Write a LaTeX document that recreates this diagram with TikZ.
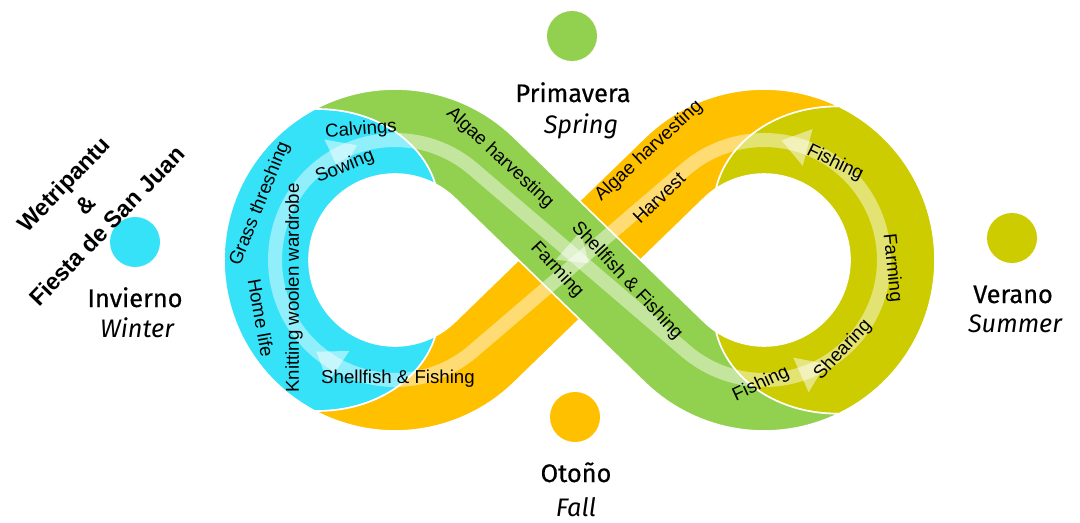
\documentclass[tikz,border=0pt]{standalone}
\usepackage{fontspec}
\setmainfont{Liberation Sans}
\newfontfamily\seasonfont{Fira Sans}
\newfontfamily\seasonboldfont[FakeBold=0.5]{Fira Sans}
\usepackage{tikz}
\definecolor{wintercyan}{RGB}{54,226,248}
\definecolor{springgreen}{RGB}{146,208,80}
\definecolor{summerolive}{RGB}{204,204,0}
\definecolor{fallorange}{RGB}{255,192,0}
\def\Lcx{395}
\def\Rcx{764}
\def\Cy{262}
\def\Rin{86}
\def\Rout{171}
\tikzset{
  band/.style={draw=white, line width=1.2pt, line join=round},
  stripe/.style={draw=white, draw opacity=0.45, line width=10.5pt},
  flowtipfill/.style={fill=white, fill opacity=0.5},
  lbl/.style={font=\fontsize{14}{16}\selectfont, inner sep=0pt},
  season/.style={font=\seasonboldfont\fontsize{19}{22}\selectfont, anchor=base, inner sep=0pt},
  seasonen/.style={font=\seasonfont\itshape\fontsize{19}{22}\selectfont, anchor=base, inner sep=0pt},
  seasondot/.style={circle, minimum size=37.5pt, inner sep=0pt}
}
\newcommand{\flowtip}[3]{\fill[flowtipfill, shift={(#1,#2)}, rotate=#3] (14,0) -- (-13,19) -- (-13,-19) -- cycle;}
\begin{document}
\begin{tikzpicture}[x=0.75pt, y=0.75pt]
\fill[white] (0,0) rectangle (1080,522);
\useasboundingbox (0,0) rectangle (1080,522);

\filldraw[band, fill=wintercyan]
  plot[domain=118:242, samples=50] ({\Lcx+\Rout*cos(\x)},{\Cy+\Rout*sin(\x)})
  -- plot[domain=242:298, samples=30] ({\Lcx+(\Rout-85*(\x-242)/56)*cos(\x)},{\Cy+(\Rout-85*(\x-242)/56)*sin(\x)})
  -- plot[domain=0:236, samples=80] ({\Lcx+\Rin*cos(298-\x)},{\Cy+\Rin*sin(298-\x)})
  -- plot[domain=62:118, samples=30] ({\Lcx+(\Rin+85*(\x-62)/56)*cos(\x)},{\Cy+(\Rin+85*(\x-62)/56)*sin(\x)})
  -- cycle;
\filldraw[band, fill=summerolive]
  plot[domain=0:128, samples=50] ({\Rcx+\Rout*cos(64-\x)},{\Cy+\Rout*sin(64-\x)})
  -- plot[domain=0:60, samples=30] ({\Rcx+(\Rout-85*\x/60)*cos(296-\x)},{\Cy+(\Rout-85*\x/60)*sin(296-\x)})
  -- plot[domain=236:484, samples=80] ({\Rcx+\Rin*cos(\x)},{\Cy+\Rin*sin(\x)})
  -- plot[domain=0:60, samples=30] ({\Rcx+(\Rin+85*\x/60)*cos(124-\x)},{\Cy+(\Rin+85*\x/60)*sin(124-\x)})
  -- cycle;
\filldraw[band, fill=fallorange]
  plot[domain=0:72.14, samples=30] ({\Lcx+\Rout*cos(-118+\x)},{\Cy+\Rout*sin(-118+\x)})
  -- ({\Rcx+\Rin*cos(134.14)},{\Cy+\Rin*sin(134.14)})
  -- plot[domain=0:10.14, samples=5] ({\Rcx+\Rin*cos(134.14-\x)},{\Cy+\Rin*sin(134.14-\x)})
  -- plot[domain=0:60, samples=30] ({\Rcx+(\Rin+85*\x/60)*cos(124-\x)},{\Cy+(\Rin+85*\x/60)*sin(124-\x)})
  -- plot[domain=64:134.14, samples=30] ({\Rcx+\Rout*cos(\x)},{\Cy+\Rout*sin(\x)})
  -- ({\Lcx+\Rin*cos(-45.86)},{\Cy+\Rin*sin(-45.86)})
  -- plot[domain=0:16.14, samples=5] ({\Lcx+\Rin*cos(-45.86-\x)},{\Cy+\Rin*sin(-45.86-\x)})
  -- plot[domain=0:56, samples=30] ({\Lcx+(\Rin+85*\x/56)*cos(-62-\x)},{\Cy+(\Rin+85*\x/56)*sin(-62-\x)})
  -- cycle;
\filldraw[band, fill=springgreen]
  plot[domain=0:72.14, samples=30] ({\Lcx+\Rout*cos(118-\x)},{\Cy+\Rout*sin(118-\x)})
  -- ({\Rcx+\Rin*cos(225.86)},{\Cy+\Rin*sin(225.86)})
  -- plot[domain=225.86:236, samples=5] ({\Rcx+\Rin*cos(\x)},{\Cy+\Rin*sin(\x)})
  -- plot[domain=236:296, samples=30] ({\Rcx+(\Rin+85*(\x-236)/60)*cos(\x)},{\Cy+(\Rin+85*(\x-236)/60)*sin(\x)})
  -- plot[domain=0:70.14, samples=30] ({\Rcx+\Rout*cos(296-\x)},{\Cy+\Rout*sin(296-\x)})
  -- ({\Lcx+\Rin*cos(45.86)},{\Cy+\Rin*sin(45.86)})
  -- plot[domain=45.86:62, samples=5] ({\Lcx+\Rin*cos(\x)},{\Cy+\Rin*sin(\x)})
  -- plot[domain=62:118, samples=30] ({\Lcx+(\Rin+85*(\x-62)/56)*cos(\x)},{\Cy+(\Rin+85*(\x-62)/56)*sin(\x)})
  -- cycle;

\draw[stripe] plot[domain=75:130.57, samples=20] ({\Rcx+120*cos(\x)},{\Cy+120*sin(\x)})
  -- plot[domain=0:74.57, samples=25] ({\Lcx+120*cos(-49.43-\x)},{\Cy+120*sin(-49.43-\x)});
\draw[stripe] plot[domain=0:121, samples=40] ({\Lcx+120*cos(236-\x)},{\Cy+120*sin(236-\x)});
\draw[stripe] plot[domain=0:65.57, samples=25] ({\Lcx+120*cos(115-\x)},{\Cy+120*sin(115-\x)})
  -- plot[domain=229.43:294, samples=25] ({\Rcx+120*cos(\x)},{\Cy+120*sin(\x)});
\draw[stripe] plot[domain=294:435, samples=50] ({\Rcx+120*cos(\x)},{\Cy+120*sin(\x)});
\flowtip{{\Lcx+120*cos(236)}}{{\Cy+120*sin(236)}}{146}
\flowtip{{\Lcx+120*cos(115)}}{{\Cy+120*sin(115)}}{25}
\flowtip{{\Rcx+120*cos(294)}}{{\Cy+120*sin(294)}}{24}
\flowtip{{\Rcx+120*cos(75)}}{{\Cy+120*sin(75)}}{165}
\flowtip{578}{268}{-41}

\node[lbl, rotate=4] (calvings) at (361,392) {Calvings};
\node[lbl, rotate=22] (sowing) at (345,355) {Sowing};
\node[lbl, rotate=68] (grass) at (260,318) {Grass threshing};
\node[lbl, rotate=-80] (homelife) at (261,204) {Home life};
\node[lbl, rotate=90] (knitting) at (294,234) {Knitting woolen wardrobe};
\node[lbl] (shellwinter) at (398,143) {Shellfish \& Fishing};
\node[lbl, rotate=-43] (algaespring) at (500,364) {Algae harvesting};
\node[lbl, rotate=-47] (farmspring) at (557,252) {Farming};
\node[lbl, rotate=-47] (shellspring) at (627,241) {Shellfish \& Fishing};
\node[lbl, rotate=25] (fishspring) at (761,138) {Fishing};
\node[lbl, rotate=43] (algaefall) at (649,371) {Algae harvesting};
\node[lbl, rotate=44] (harvest) at (659,324) {Harvest};
\node[lbl, rotate=-26] (fishsummer) at (835,359) {Fishing};
\node[lbl, rotate=-84] (farmsummer) at (892,254) {Farming};
\node[lbl, rotate=47] (shearing) at (843,172) {Shearing};

\node[seasondot, fill=wintercyan] (winterdot) at (135,280) {};
\node[seasondot, fill=springgreen] (springdot) at (572,486) {};
\node[seasondot, fill=fallorange] (falldot) at (575,105) {};
\node[seasondot, fill=summerolive] (summerdot) at (1012,284) {};
\node[season] (invierno) at (135,215) {Invierno};
\node[seasonen] (winter) at (137,185) {Winter};
\node[season] (primavera) at (573,420) {Primavera};
\node[seasonen] (spring) at (581,388) {Spring};
\node[season] (otono) at (576,40) {Otoño};
\node[seasonen] (fall) at (576,6) {Fall};
\node[season] (verano) at (1013,219) {Verano};
\node[seasonen] (summer) at (1015,190) {Summer};
\node[font=\bfseries\fontsize{17.5}{22.5}\selectfont, align=center, rotate=46, inner sep=0pt] (fiesta) at (85,317) {Wetripantu\\\&\\Fiesta de San Juan};
\end{tikzpicture}
\end{document}
